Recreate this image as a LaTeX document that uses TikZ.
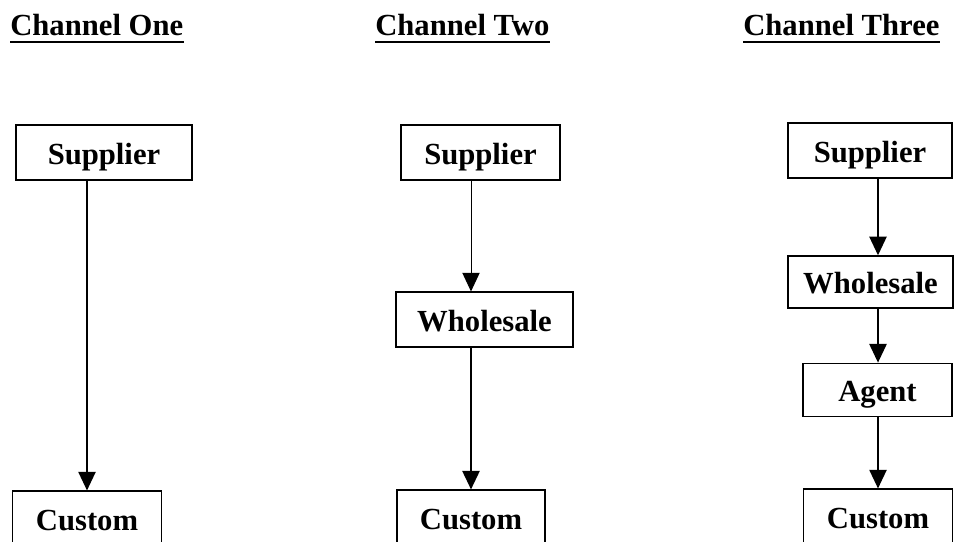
\documentclass[tikz,border=0pt]{standalone}
\usepackage{fontspec}
\setmainfont{Liberation Serif}
\usepackage{tikz}
\usetikzlibrary{arrows.meta, positioning}

\begin{document}
\begin{tikzpicture}[
    x=0.75pt, y=-0.75pt,
    >={Triangle[length=14pt, width=13pt]},
    every node/.style={font=\fontsize{23}{27}\selectfont\bfseries},
    box/.style={draw, line width=1.1pt, inner sep=0pt, text height=17.5pt, text depth=0pt},
    ttl/.style={inner sep=0pt, anchor=base west},
    uline/.style={line width=1.6pt},
    arr/.style={->, line width=1.1pt},
]
    \useasboundingbox (0, 0) rectangle (970, 542);
    \clip (0, 0) rectangle (970, 542);

    % Titles
    \node[ttl] (t1) at (10, 36) {Channel One};
    \node[ttl] (t2) at (375, 36) {Channel Two};
    \node[ttl] (t3) at (743, 36) {Channel Three};
    \foreach \t in {t1, t2, t3}
        \draw[uline] ([yshift=-4.5pt]\t.base west) -- ([yshift=-4.5pt]\t.base east);

    % Channel One
    \node[box, minimum width=132pt, minimum height=41pt] (s1) at (104, 152.5) {Supplier};
    \node[box, minimum width=112pt, minimum height=41pt] (c1) at (87, 518.5) {Custom};
    \draw[arr] (s1.south -| c1.north) -- (c1.north);

    % Channel Two
    \node[box, minimum width=119pt, minimum height=41pt] (s2) at (480.5, 152.5) {Supplier};
    \node[box, minimum width=133pt, minimum height=41pt] (w2) at (484.5, 319.5) {Wholesale};
    \node[box, minimum width=111pt, minimum height=41pt] (c2) at (471, 517.5) {Custom};
    \draw[->, line width=0.7pt] (s2.south -| c2.north) -- (w2.north -| c2.north);
    \draw[arr, line width=1.4pt] (w2.south -| c2.north) -- (c2.north);

    % Channel Three
    \node[box, minimum width=123pt, minimum height=41pt] (s3) at (870, 150.5) {Supplier};
    \node[box, minimum width=124pt, minimum height=39pt] (w3) at (870.5, 282) {Wholesale};
    \node[box, minimum width=112pt, minimum height=40pt] (a3) at (877.5, 390) {Agent};
    \node[box, minimum width=112pt, minimum height=41pt] (c3) at (878, 516.5) {Custom};
    \draw[arr] (s3.south -| c3.north) -- (w3.north -| c3.north);
    \draw[arr] (w3.south -| c3.north) -- (a3.north -| c3.north);
    \draw[arr] (a3.south -| c3.north) -- (c3.north);
\end{tikzpicture}
\end{document}
